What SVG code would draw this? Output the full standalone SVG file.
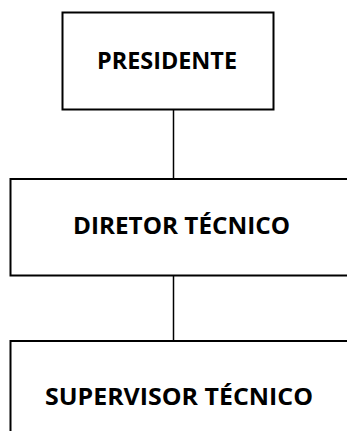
<svg xmlns="http://www.w3.org/2000/svg" width="347" height="431" viewBox="0 0 347 431">
<style>
.box{fill:#fff;stroke:#000;stroke-width:2}
.lbl{font-family:"Open Sans","Liberation Sans",sans-serif;font-weight:bold;font-size:22.5px;fill:#000}
.con{stroke:#000;stroke-width:1.5;fill:none}
</style>
<rect width="347" height="431" fill="#fff"/>
<g id="connectors">
<line class="con" x1="173.5" y1="110" x2="173.5" y2="179"/>
<line class="con" x1="173.5" y1="276" x2="173.5" y2="341"/>
</g>
<g id="presidente">
<rect class="box" x="62.5" y="12.5" width="211" height="97"/>
<text class="lbl" x="97" y="68.5" textLength="140" lengthAdjust="spacingAndGlyphs">PRESIDENTE</text>
</g>
<g id="diretor">
<rect class="box" x="10.5" y="179" width="345" height="96.5"/>
<text class="lbl" x="73" y="233.5" textLength="217" lengthAdjust="spacingAndGlyphs">DIRETOR TÉCNICO</text>
</g>
<g id="supervisor">
<rect class="box" x="10.5" y="341" width="345" height="100"/>
<text class="lbl" x="45" y="404.5" textLength="268" lengthAdjust="spacingAndGlyphs">SUPERVISOR TÉCNICO</text>
</g>
</svg>
